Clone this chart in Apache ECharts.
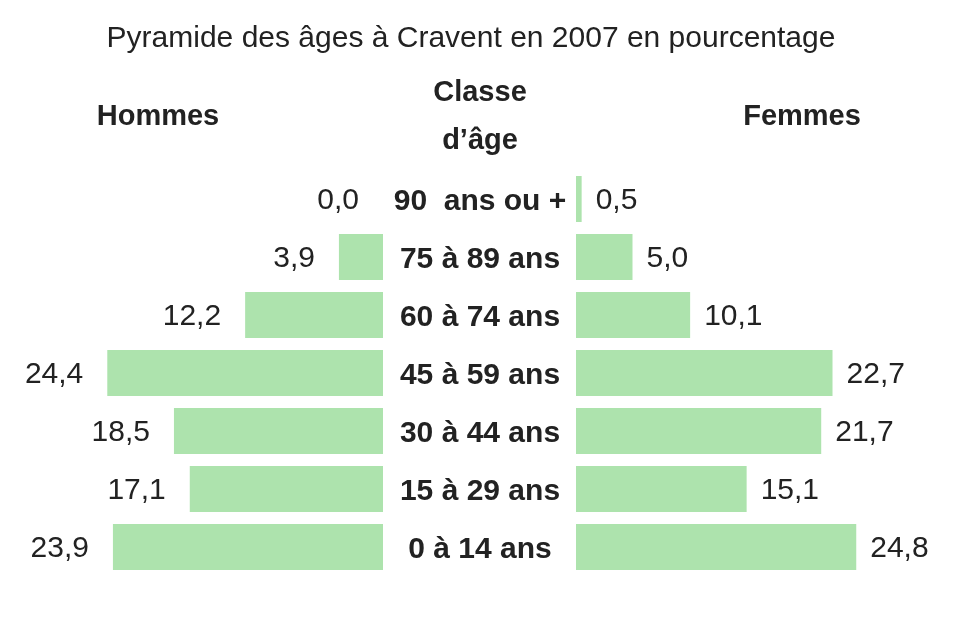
<!DOCTYPE html>
<html>
<head>
<meta charset="utf-8">
<script src="https://cdn.jsdelivr.net/npm/echarts@6/dist/echarts.min.js"></script>
<style>html,body{margin:0;padding:0;background:#fff}#c{width:960px;height:636px}</style>
</head>
<body>
<div id="c"></div>
<script>
var categories = ['90  ans ou +', '75 à 89 ans', '60 à 74 ans', '45 à 59 ans', '30 à 44 ans', '15 à 29 ans', '0 à 14 ans'];
var hommes = [0.0, 3.9, 12.2, 24.4, 18.5, 17.1, 23.9];
var femmes = [0.5, 5.0, 10.1, 22.7, 21.7, 15.1, 24.8];
var titleText = 'Pyramide des âges à Cravent en 2007 en pourcentage';

var FONT = 'Liberation Sans, Arial, Helvetica, sans-serif';
var TXT = '#222222';
var BAR = '#ade3ad';
function fr(v) { return v.toFixed(1).replace('.', ','); }

var chart = echarts.init(document.getElementById('c'), null, {renderer: 'canvas'});
chart.setOption({
  backgroundColor: '#ffffff',
  animation: false,
  textStyle: {fontFamily: FONT},
  graphic: [
    {type: 'text', x: 471, y: 39, style: {text: titleText, fontSize: 30, fontFamily: FONT, fill: TXT, textAlign: 'center', textVerticalAlign: 'middle'}},
    {type: 'text', x: 158, y: 117, style: {text: 'Hommes', fontSize: 29, fontWeight: 'bold', fontFamily: FONT, fill: TXT, textAlign: 'center', textVerticalAlign: 'middle'}},
    {type: 'text', x: 480, y: 93, style: {text: 'Classe', fontSize: 29, fontWeight: 'bold', fontFamily: FONT, fill: TXT, textAlign: 'center', textVerticalAlign: 'middle'}},
    {type: 'text', x: 480, y: 141, style: {text: 'd\u2019âge', fontSize: 29, fontWeight: 'bold', fontFamily: FONT, fill: TXT, textAlign: 'center', textVerticalAlign: 'middle'}},
    {type: 'text', x: 802, y: 117, style: {text: 'Femmes', fontSize: 29, fontWeight: 'bold', fontFamily: FONT, fill: TXT, textAlign: 'center', textVerticalAlign: 'middle'}}
  ],
  grid: [
    {left: 100.5, width: 282.5, top: 170, height: 406, containLabel: false},
    {left: 576, width: 282.5, top: 170, height: 406, containLabel: false}
  ],
  xAxis: [
    {gridIndex: 0, type: 'value', min: 0, max: 25, inverse: true, show: false},
    {gridIndex: 1, type: 'value', min: 0, max: 25, show: false}
  ],
  yAxis: [
    {gridIndex: 0, type: 'category', data: categories, inverse: true, position: 'right',
     axisLine: {show: false}, axisTick: {show: false}, splitLine: {show: false},
     axisLabel: {show: true, align: 'center', margin: 97,
                 formatter: function (v) { return '{c|' + v + '}'; },
                 rich: {c: {fontSize: 30, fontWeight: 'bold', color: TXT, fontFamily: FONT, padding: [5, 0, 0, 0]}}}},
    {gridIndex: 1, type: 'category', data: categories, inverse: true, show: false}
  ],
  series: [
    {type: 'bar', name: 'Hommes', xAxisIndex: 0, yAxisIndex: 0, data: hommes, barWidth: 46,
     itemStyle: {color: BAR},
     label: {show: true, position: 'left', distance: 24, offset: [0, 2], fontSize: 30, color: TXT, fontFamily: FONT,
             formatter: function (p) { return fr(p.value); }}},
    {type: 'bar', name: 'Femmes', xAxisIndex: 1, yAxisIndex: 1, data: femmes, barWidth: 46,
     itemStyle: {color: BAR},
     label: {show: true, position: 'right', distance: 14, offset: [0, 2], fontSize: 30, color: TXT, fontFamily: FONT,
             formatter: function (p) { return fr(p.value); }}}
  ]
});
</script>
</body>
</html>
